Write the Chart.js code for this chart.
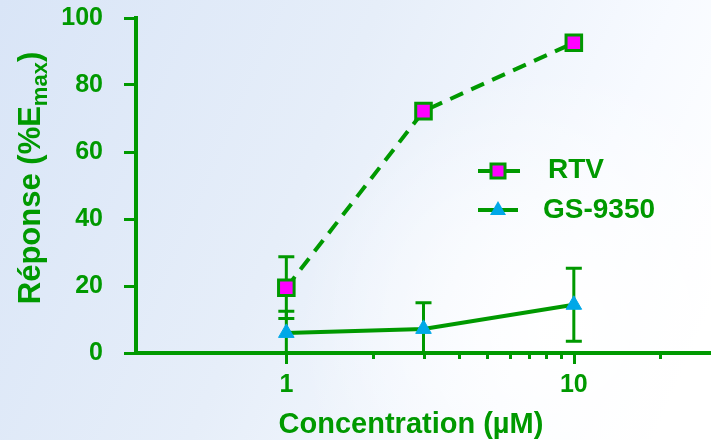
<!DOCTYPE html>
<html><head><meta charset="utf-8">
<script src="https://cdn.jsdelivr.net/npm/chart.js@4.4.0/dist/chart.umd.min.js"></script>
<style>html,body{margin:0;padding:0;background:#fff}#wrap{width:711px;height:440px}</style>
</head><body><div id="wrap"><canvas id="c" width="711" height="440"></canvas></div>
<script>
// ---- data ----
const concentrations = [1, 3, 10];
const rtvValues = [19.5, 72.2, 92.6];
const rtvErrors = [9.2, 0, 0];
const gsValues = [6.0, 7.2, 14.4];
const gsErrors = [6.5, 7.8, 10.9];
const seriesNames = ['RTV', 'GS-9350'];
const yTickValues = [0, 20, 40, 60, 80, 100];
const xMajorTicks = [1, 10];
const xMinorTicks = [2, 3, 4, 5, 6, 7, 8, 9, 20];
const xTitle = 'Concentration (µM)';
const yTitleMain = 'Réponse (%E';
const yTitleSub = 'max';
const yTitleEnd = ')';

const green = '#009900';
const magenta = '#ff00ff';
const cyan = '#00a8e8';
const FONT = 'Arial, "Liberation Sans", sans-serif';

const bgPlugin = {
  id: 'bg',
  beforeDraw(chart) {
    const {ctx, width, height} = chart;
    ctx.save();
    const g = ctx.createLinearGradient(0, 0, width, height * 0.7);
    g.addColorStop(0, '#d9e5f7');
    g.addColorStop(0.45, '#e6eef9');
    g.addColorStop(0.8, '#f7faff');
    g.addColorStop(1, '#ffffff');
    ctx.fillStyle = g;
    ctx.fillRect(0, 0, width, height);
    const r = ctx.createRadialGradient(560, 330, 20, 560, 330, 260);
    r.addColorStop(0, 'rgba(255,255,255,0.95)');
    r.addColorStop(1, 'rgba(255,255,255,0)');
    ctx.fillStyle = r;
    ctx.fillRect(0, 0, width, height);
    ctx.restore();
  }
};

const errPlugin = {
  id: 'err',
  beforeDatasetsDraw(chart) {
    const {ctx, scales: {x, y}} = chart;
    const errs = [rtvErrors, gsErrors];
    ctx.save();
    ctx.strokeStyle = green;
    ctx.lineWidth = 3;
    chart.data.datasets.forEach((ds, i) => {
      ds.data.forEach((p, j) => {
        const e = errs[i][j];
        if (!e) return;
        const px = x.getPixelForValue(p.x);
        const lowV = p.y - e;
        const hi = y.getPixelForValue(p.y + e);
        const lo = y.getPixelForValue(Math.max(0, lowV));
        ctx.beginPath();
        ctx.moveTo(px, lo); ctx.lineTo(px, hi);
        ctx.moveTo(px - 8, hi); ctx.lineTo(px + 8, hi);
        if (lowV > 0) { ctx.moveTo(px - 8, lo); ctx.lineTo(px + 8, lo); }
        ctx.stroke();
      });
    });
    ctx.restore();
  }
};

const xTickPlugin = {
  id: 'xticks',
  afterDraw(chart) {
    const {ctx, scales: {x}, chartArea} = chart;
    const y0 = chartArea.bottom;
    ctx.save();
    ctx.strokeStyle = green;
    ctx.lineWidth = 3;
    ctx.beginPath();
    xMajorTicks.forEach(v => { const px = Math.round(x.getPixelForValue(v)) + 0.5; ctx.moveTo(px, y0); ctx.lineTo(px, y0 + 11); });
    xMinorTicks.forEach(v => { const px = Math.round(x.getPixelForValue(v)) + 0.5; ctx.moveTo(px, y0); ctx.lineTo(px, y0 + 6); });
    ctx.stroke();
    // x title
    ctx.fillStyle = green;
    ctx.font = 'bold 29px ' + FONT;
    ctx.textAlign = 'center';
    ctx.textBaseline = 'alphabetic';
    ctx.fillText(xTitle, 411, 433);
    // y title with subscript
    ctx.translate(40, 178);
    ctx.rotate(-Math.PI / 2);
    const mainFont = 'bold 31px ' + FONT, subFont = 'bold 22px ' + FONT;
    ctx.font = mainFont; const w1 = ctx.measureText(yTitleMain).width; const w3 = ctx.measureText(yTitleEnd).width;
    ctx.font = subFont; const w2 = ctx.measureText(yTitleSub).width;
    let sx = -(w1 + w2 + w3) / 2;
    ctx.textAlign = 'left';
    ctx.font = mainFont; ctx.fillText(yTitleMain, sx, 0); sx += w1;
    ctx.font = subFont; ctx.fillText(yTitleSub, sx, 7); sx += w2;
    ctx.font = mainFont; ctx.fillText(yTitleEnd, sx, 0);
    ctx.restore();
    // legend
    ctx.save();
    ctx.strokeStyle = green; ctx.lineWidth = 4;
    ctx.beginPath();
    ctx.moveTo(478, 171); ctx.lineTo(520, 171);
    ctx.moveTo(478, 210); ctx.lineTo(518, 210);
    ctx.stroke();
    ctx.fillStyle = magenta; ctx.lineWidth = 3;
    ctx.fillRect(491, 164, 14, 14); ctx.strokeRect(491, 164, 14, 14);
    ctx.fillStyle = cyan;
    ctx.beginPath(); ctx.moveTo(498, 201); ctx.lineTo(506, 215); ctx.lineTo(490, 215); ctx.closePath(); ctx.fill();
    ctx.fillStyle = green;
    ctx.font = 'bold 28px ' + FONT;
    ctx.textAlign = 'left'; ctx.textBaseline = 'middle';
    ctx.fillText(seriesNames[0], 548, 170);
    ctx.fillText(seriesNames[1], 543, 210);
    ctx.restore();
  }
};

new Chart(document.getElementById('c'), {
  type: 'line',
  data: {
    datasets: [
      {
        label: seriesNames[0],
        data: concentrations.map((c, i) => ({x: c, y: rtvValues[i]})),
        borderColor: green, borderWidth: 4, borderDash: [14, 9],
        pointStyle: 'rect', pointRadius: 11, pointBackgroundColor: magenta,
        pointBorderColor: green, pointBorderWidth: 3, tension: 0, clip: false
      },
      {
        label: seriesNames[1],
        data: concentrations.map((c, i) => ({x: c, y: gsValues[i]})),
        borderColor: green, borderWidth: 4,
        pointStyle: 'triangle', pointRadius: 9, pointBackgroundColor: cyan,
        pointBorderColor: cyan, pointBorderWidth: 1, tension: 0, clip: false
      }
    ]
  },
  options: {
    responsive: false, animation: false, devicePixelRatio: 1,
    layout: {autoPadding: false, padding: {top: 18, left: 0, right: 0, bottom: 0}},
    plugins: {legend: {display: false}, tooltip: {enabled: false}},
    scales: {
      x: {
        type: 'logarithmic', min: 0.3, max: 30,
        afterBuildTicks: s => { s.ticks = xMajorTicks.map(v => ({value: v})); },
        afterFit: s => { s.height = 87; s.paddingLeft = 0; s.paddingRight = 0; },
        ticks: {color: green, font: {family: FONT, size: 25, weight: 'bold'}, padding: 17, autoSkip: false, maxRotation: 0, callback: v => String(v)},
        grid: {display: false, drawTicks: false},
        border: {display: true, color: green, width: 4}
      },
      y: {
        min: 0, max: 100,
        afterBuildTicks: s => { s.ticks = yTickValues.map(v => ({value: v})); },
        afterFit: s => { s.width = 136; s.paddingTop = 0; s.paddingBottom = 0; },
        ticks: {color: green, font: {family: FONT, size: 25, weight: 'bold'}, padding: 21},
        grid: {display: true, drawOnChartArea: false, drawTicks: true, tickLength: 12, tickColor: green, tickWidth: 3},
        border: {display: true, color: green, width: 4}
      }
    }
  },
  plugins: [bgPlugin, errPlugin, xTickPlugin]
});
</script>
</body></html>
